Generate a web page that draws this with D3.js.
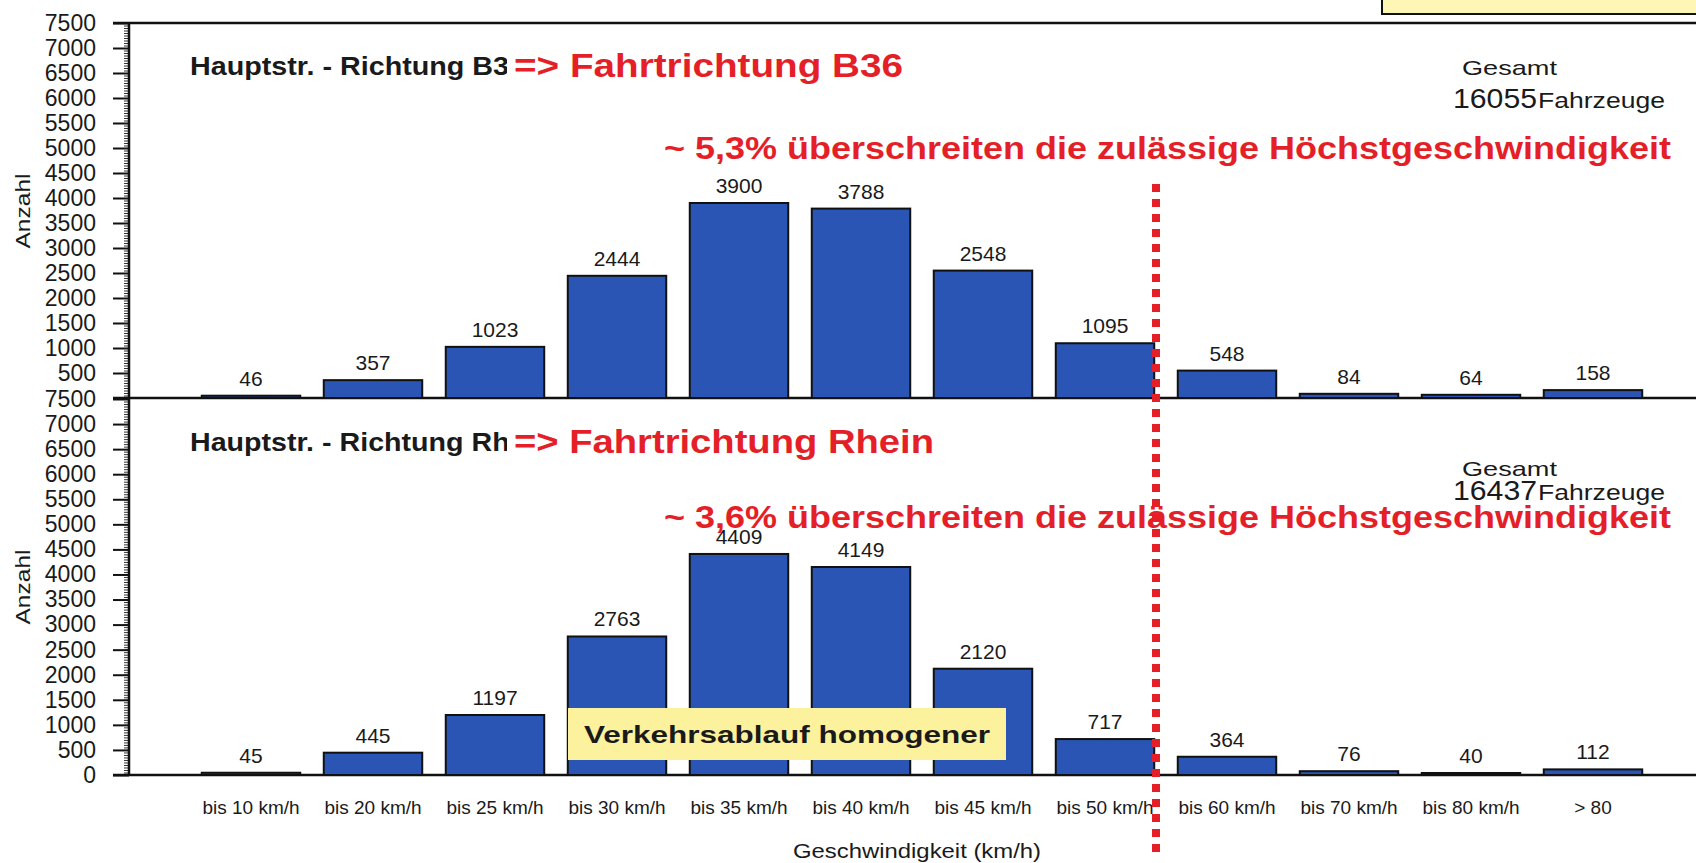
<!DOCTYPE html>
<html>
<head>
<meta charset="utf-8">
<script src="https://cdnjs.cloudflare.com/ajax/libs/d3/7.8.5/d3.min.js"></script>
<style>
body { margin: 0; background: #fff; }
svg { display: block; font-family: "Liberation Sans", Arial, sans-serif; }
</style>
</head>
<body>
<svg width="1696" height="863"></svg>
<script>
/*global d3 */
var categories = ["bis 10 km/h", "bis 20 km/h", "bis 25 km/h", "bis 30 km/h", "bis 35 km/h", "bis 40 km/h",
    "bis 45 km/h", "bis 50 km/h", "bis 60 km/h", "bis 70 km/h", "bis 80 km/h", "> 80"];
var richtungB36 = [46, 357, 1023, 2444, 3900, 3788, 2548, 1095, 548, 84, 64, 158];
var richtungRhein = [45, 445, 1197, 2763, 4409, 4149, 2120, 717, 364, 76, 40, 112];
var yTicks = d3.range(0, 7501, 500);
var yMinorTicks = d3.range(0, 7501, 50);
var gesamt = ["16055", "16437"];
var panelTitles = ["Hauptstr. - Richtung B36", "Hauptstr. - Richtung Rhein"];
var fahrtrichtung = ["=> Fahrtrichtung B36", "=> Fahrtrichtung Rhein"];
var ueberschreitung = ["~ 5,3% überschreiten die zulässige Höchstgeschwindigkeit",
    "~ 3,6% überschreiten die zulässige Höchstgeschwindigkeit"];

var RED = "#e51f27";
var BLUE = "#2a55b5";
var AXIS_X = 129;

var svg = d3.select("svg");

var x = d3.scaleBand().domain(categories).range([190, 1654]).paddingInner(0.193).paddingOuter(0.0965);

var txt = function (s, x0, y0, size, opts) {
    "use strict";
    opts = opts || {};
    var t = svg.append("text")
        .attr("x", x0)
        .attr("y", y0)
        .attr("font-size", size)
        .attr("fill", opts.fill || "#1a1a1a")
        .attr("font-weight", opts.bold ? "bold" : null)
        .attr("text-anchor", opts.anchor || "start")
        .text(s);
    if (opts.len) {
        t.attr("textLength", opts.len).attr("lengthAdjust", "spacingAndGlyphs");
    }
    if (opts.rotate) {
        t.attr("transform", "rotate(-90," + x0 + "," + y0 + ")");
    }
    return t;
};

// top-right yellow box (cut off by the slide)
svg.append("rect").attr("x", 1382).attr("y", -4).attr("width", 330).attr("height", 18)
    .attr("fill", "#fdf6b4").attr("stroke", "#111").attr("stroke-width", 2);

var panels = [
    {data: richtungB36, top: 23, bottom: 398, ticks: yTicks.slice(1), i: 0,
        titleY: 75, gesY: 75, totY: 108, redY: 159, anzY: 211},
    {data: richtungRhein, top: 399, bottom: 775, ticks: yTicks, i: 1,
        titleY: 451, gesY: 476, totY: 500, redY: 528, anzY: 587}
];

var drawPanel = function (p) {
    "use strict";
    var y = d3.scaleLinear().domain([0, 7500]).range([p.bottom, p.top]);

    // ruler-like minor ticks
    svg.append("g").attr("transform", "translate(" + AXIS_X + ",0)")
        .call(d3.axisLeft(y).tickValues(yMinorTicks).tickSize(5).tickFormat(""))
        .call(function (g) { g.select(".domain").remove(); })
        .selectAll("line").attr("stroke", "#333").attr("stroke-width", 1);

    var ax = svg.append("g").attr("transform", "translate(" + AXIS_X + ",0)")
        .call(d3.axisLeft(y).tickValues(p.ticks).tickSize(16).tickPadding(17).tickFormat(d3.format("d")));
    ax.attr("font-family", null).attr("font-size", 23);
    ax.select(".domain").remove();
    ax.selectAll("line").attr("stroke", "#111").attr("stroke-width", 2);
    ax.selectAll("text").attr("fill", "#1a1a1a");

    // baseline
    svg.append("line").attr("x1", 113).attr("x2", 1696)
        .attr("y1", y(0)).attr("y2", y(0)).attr("stroke", "#111").attr("stroke-width", 2.5);

    svg.append("g").selectAll("rect").data(p.data).enter().append("rect")
        .attr("x", function (d, i) { return x(categories[i]); })
        .attr("width", x.bandwidth())
        .attr("y", function (d) { return y(d); })
        .attr("height", function (d) { return y(0) - y(d); })
        .attr("fill", BLUE)
        .attr("stroke", "#111")
        .attr("stroke-width", 2);

    // titles
    txt(panelTitles[p.i], 190, p.titleY, 25, {bold: true, len: p.i === 0 ? 335 : 361});
    svg.append("rect").attr("x", 507).attr("y", p.titleY - 28).attr("width", p.i === 0 ? 400 : 430)
        .attr("height", 38).attr("fill", "#fff");
    txt(fahrtrichtung[p.i], 514, p.titleY + 2, 33, {bold: true, fill: RED, len: p.i === 0 ? 389 : 420});

    txt("Gesamt", 1462, p.gesY, 21, {len: 95});
    txt(gesamt[p.i], 1453, p.totY, 28, {len: 84});
    txt("Fahrzeuge", 1538, p.totY, 22, {len: 127});

    txt(ueberschreitung[p.i], 664, p.redY, 32, {bold: true, fill: RED, len: 1007});

    // value labels on top so they stay readable
    svg.append("g").selectAll("text").data(p.data).enter().append("text")
        .attr("x", function (d, i) { return x(categories[i]) + x.bandwidth() / 2; })
        .attr("y", function (d) { return y(d) - 10; })
        .attr("text-anchor", "middle")
        .attr("font-size", 21)
        .attr("fill", "#1a1a1a")
        .text(function (d) { return d; });

    txt("Anzahl", 30, p.anzY, 21, {anchor: "middle", rotate: true, len: 75});
};

panels.forEach(drawPanel);

// top frame line and vertical axis
svg.append("line").attr("x1", 113).attr("x2", 1696).attr("y1", 23).attr("y2", 23)
    .attr("stroke", "#111").attr("stroke-width", 2.5);
svg.append("line").attr("x1", AXIS_X).attr("x2", AXIS_X).attr("y1", 22).attr("y2", 776)
    .attr("stroke", "#111").attr("stroke-width", 2.5);

// x axis labels
var xa = svg.append("g").attr("transform", "translate(0,775)")
    .call(d3.axisBottom(x).tickSize(0).tickPadding(26));
xa.attr("font-family", null).attr("font-size", 19);
xa.select(".domain").remove();
xa.selectAll("text").attr("fill", "#1a1a1a");

txt("Geschwindigkeit (km/h)", 917, 858, 21, {anchor: "middle", len: 248});

// yellow note box
svg.append("rect").attr("x", 568).attr("y", 708).attr("width", 438).attr("height", 52)
    .attr("fill", "#fcf29e");
txt("Verkehrsablauf homogener", 584, 743, 24, {bold: true, len: 406});

// 50 km/h limit marker
svg.append("line").attr("x1", 1156).attr("x2", 1156).attr("y1", 184).attr("y2", 856)
    .attr("stroke", RED).attr("stroke-width", 8).attr("stroke-dasharray", "8,7");
</script>
</body>
</html>
